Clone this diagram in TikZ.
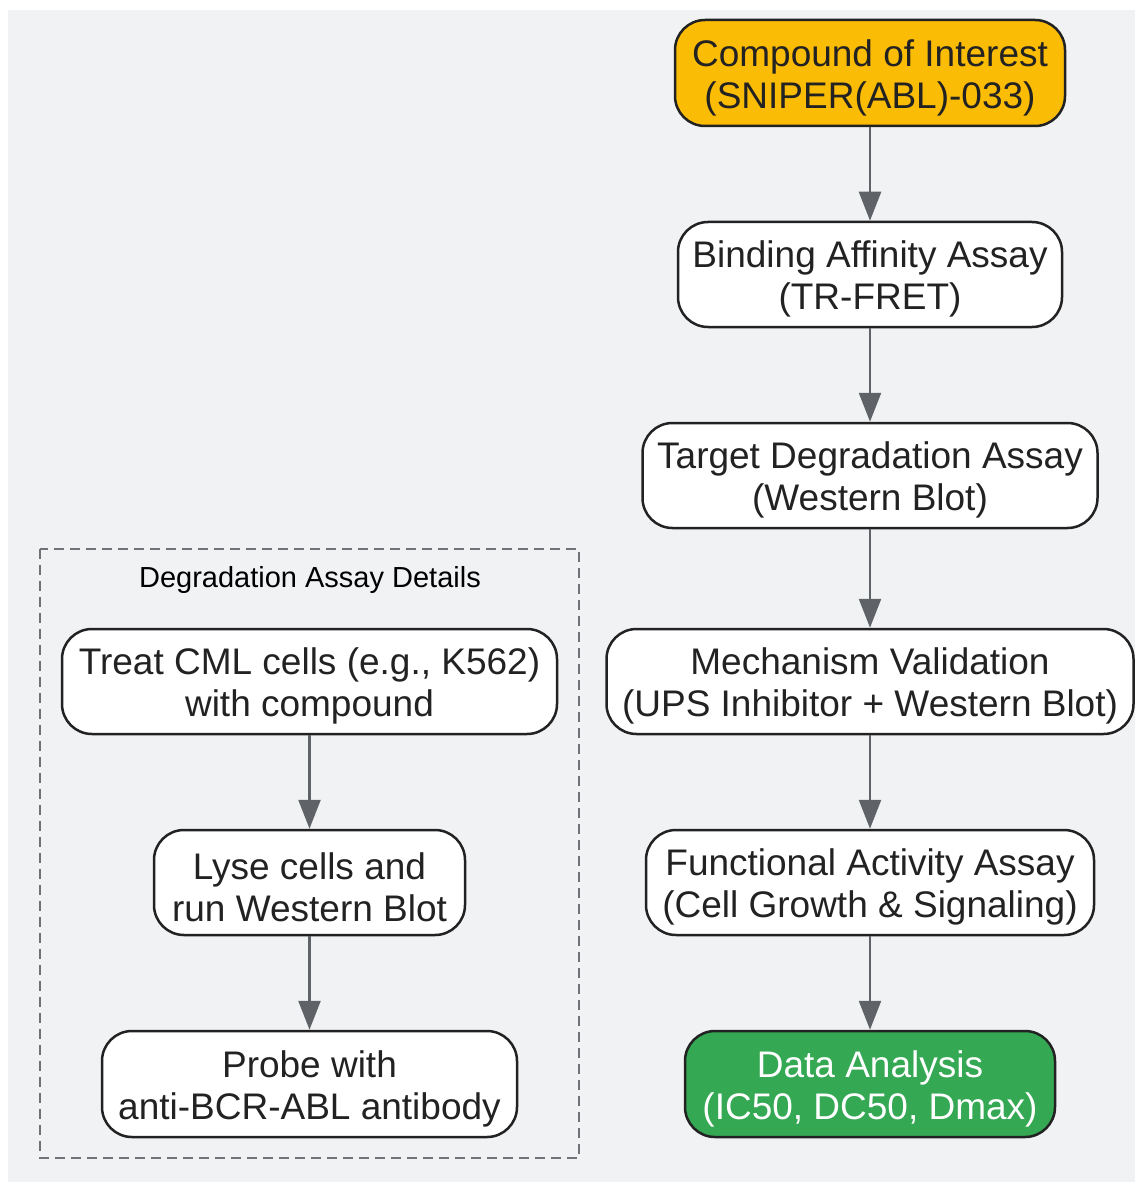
\documentclass[tikz,border=0pt]{standalone}
\usepackage{fontspec}
\setmainfont{Liberation Sans}
\usetikzlibrary{arrows.meta}
\definecolor{bgc}{HTML}{F1F2F4}
\definecolor{edgec}{HTML}{222222}
\definecolor{arrc}{HTML}{5F6368}
\definecolor{yel}{HTML}{FBBC05}
\definecolor{grn}{HTML}{34A853}
\tikzset{
  box/.style={draw=edgec, line width=2.5pt, rounded corners=30pt, fill=white, inner sep=0pt},
  txt/.style={align=center, text=edgec, font=\fontsize{37}{42}\selectfont, inner sep=0pt},
  arr/.style={draw=arrc, line width=2.5pt, -{Triangle[length=29pt,width=22pt]}},
}
\begin{document}
\begin{tikzpicture}[x=1pt,y=-1pt]
\useasboundingbox (0,0) rectangle (1135,1182);
\fill[white] (0,0) rectangle (1135,1182);
\fill[bgc] (8,10) rectangle (1135,1182);
% dashed group
\draw[draw=arrc!90, line width=2.2pt, dash pattern=on 10pt off 6pt] (40,549) rectangle (579,1158);
\node[font=\fontsize{29}{34}\selectfont, text=black] (lbl) at (310,580) {Degradation Assay Details};
% right column
\node[box, fill=yel, minimum width=390pt, minimum height=106pt] (c) at (870,73) {};
\node[txt] (ct) at ([yshift=-4.5pt]c.center) {Compound of Interest\\(SNIPER(ABL)-033)};
\node[box, minimum width=384pt, minimum height=105pt] (b) at (870,274.5) {};
\node[txt] (bt) at ([yshift=-4.5pt]b.center) {Binding Affinity Assay\\(TR-FRET)};
\node[box, minimum width=455pt, minimum height=105pt] (t) at (870,475.5) {};
\node[txt] (tt) at ([yshift=-4.5pt]t.center) {Target Degradation Assay\\(Western Blot)};
\node[box, minimum width=527pt, minimum height=105pt] (m) at (870,681.5) {};
\node[txt] (mt) at ([yshift=-4.5pt]m.center) {Mechanism Validation\\(UPS Inhibitor + Western Blot)};
\node[box, minimum width=448pt, minimum height=105pt] (f) at (870,882.5) {};
\node[txt] (ft) at ([yshift=-4.5pt]f.center) {Functional Activity Assay\\(Cell Growth \& Signaling)};
\node[box, fill=grn, minimum width=370pt, minimum height=106pt] (d) at (870,1084) {};
\node[txt, text=white] (dt) at ([yshift=-4.5pt]d.center) {Data Analysis\\(IC50, DC50, Dmax)};
% left column
\node[box, minimum width=495pt, minimum height=105pt] (l1) at (309.5,681.5) {};
\node[txt] (l1t) at ([yshift=-4.5pt]l1.center) {Treat CML cells (e.g., K562)\\with compound};
\node[box, minimum width=311pt, minimum height=105pt] (l2) at (309.5,882.5) {};
\node[txt] (l2t) at ([yshift=-4.5pt]l2.center) {Lyse cells and\\run Western Blot};
\node[box, minimum width=415pt, minimum height=106pt] (l3) at (309.5,1084) {};
\node[txt] (l3t) at ([yshift=-4.5pt]l3.center) {Probe with\\anti-BCR-ABL antibody};
% arrows
\draw[arr] (c.south) -- (b.north);
\draw[arr] (b.south) -- (t.north);
\draw[arr] (t.south) -- (m.north);
\draw[arr] (m.south) -- (f.north);
\draw[arr] (f.south) -- (d.north);
\draw[arr] (l1.south) -- (l2.north);
\draw[arr] (l2.south) -- (l3.north);
\end{tikzpicture}
\end{document}
